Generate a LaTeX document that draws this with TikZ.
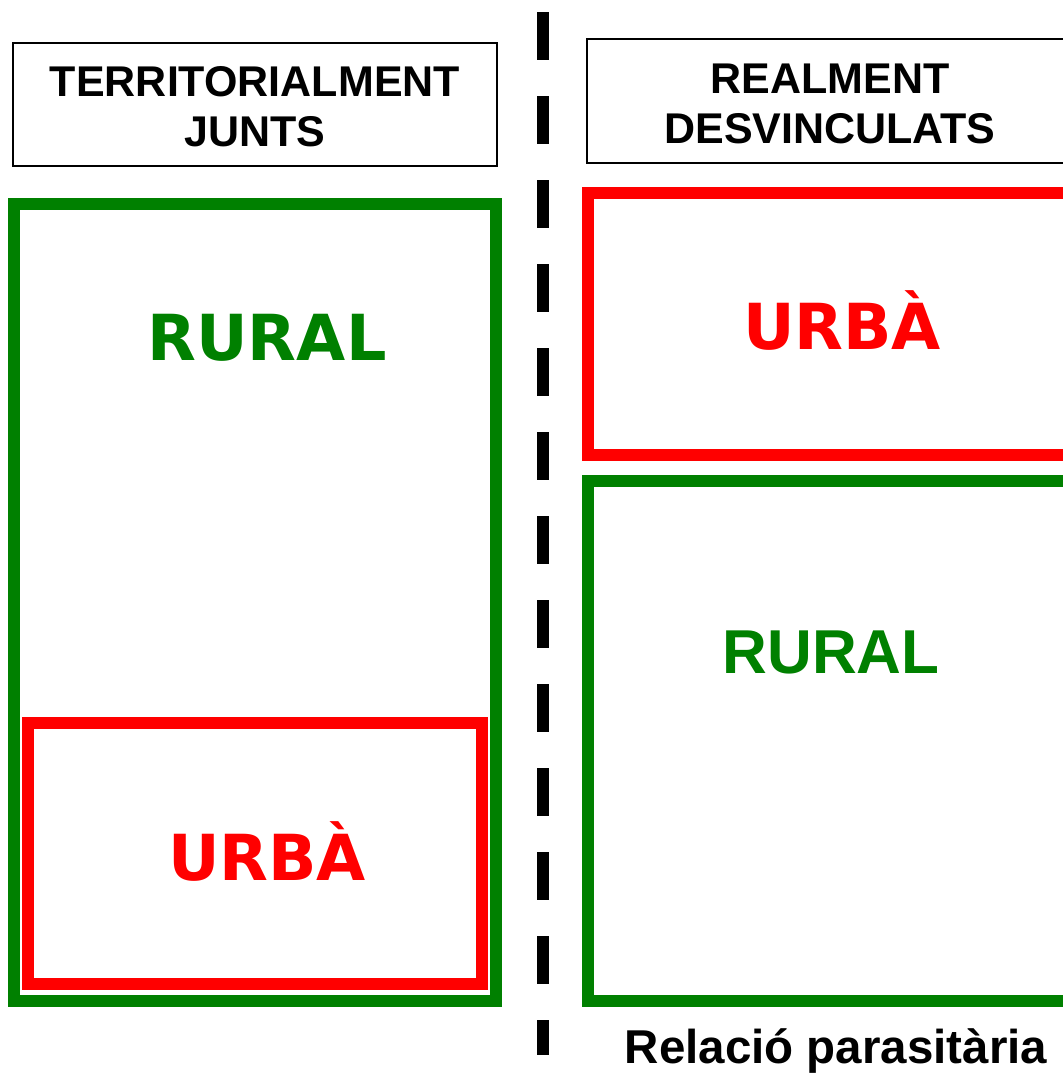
\documentclass[tikz,border=0pt]{standalone}
\usepackage{fontspec}
\setmainfont{Liberation Sans}
\newfontfamily\verdb{DejaVu Sans}
\definecolor{cgreen}{HTML}{008000}
\definecolor{cred}{HTML}{FF0000}
\tikzset{
  hdrbox/.style={draw=black, line width=1.8pt},
  greenbox/.style={draw=cgreen, line width=12pt},
  redbox/.style={draw=cred, line width=12pt},
  hdrtext/.style={font=\fontsize{43}{50}\selectfont\bfseries, anchor=base, inner sep=0pt},
  bigtext/.style={font=\verdb\fontsize{63.5}{70}\selectfont\bfseries, anchor=base, inner sep=0pt},
  bigarial/.style={font=\fontsize{62}{70}\selectfont\bfseries, anchor=base, inner sep=0pt},
  divider/.style={line width=12pt, dash pattern=on 48pt off 36pt}
}
\begin{document}
\begin{tikzpicture}[x=1pt,y=-1pt]
\useasboundingbox (0,0) rectangle (1063,1074);
\clip (0,0) rectangle (1063,1074);
% divider
\coordinate (dtop) at (543,12);
\coordinate (dbot) at (543,1055);
\draw[divider] (dtop) -- (dbot);
% header boxes
\draw[hdrbox] (13,43) rectangle (497,166);
\draw[hdrbox] (587,39) rectangle (1071,163);
\node[hdrtext] (h1a) at (255,96) {TERRITORIALMENT};
\node[hdrtext] (h1b) at (255,146) {JUNTS};
\node[hdrtext] (h2a) at (830,93) {REALMENT};
\node[hdrtext] (h2b) at (830,143) {DESVINCULATS};
% left side
\draw[greenbox] (14,204) rectangle (496,1001);
\draw[redbox] (28,723) rectangle (482,984);
\node[bigtext, text=cgreen] (lrural) at (267,360) {RURAL};
\node[bigtext, text=cred] (lurba) at (267,880) {URBÀ};
% right side
\draw[redbox] (588,193) rectangle (1070,455);
\draw[greenbox] (588,481) rectangle (1070,1001);
\node[bigtext, text=cred] (rurba) at (842,349) {URBÀ};
\node[bigarial, text=cgreen] (rrural) at (831,673) {RURAL};
\node[font=\fontsize{47.5}{52}\selectfont\bfseries, anchor=base, inner sep=0pt] (cap) at (836,1063) {Relació parasitària};
\end{tikzpicture}
\end{document}
